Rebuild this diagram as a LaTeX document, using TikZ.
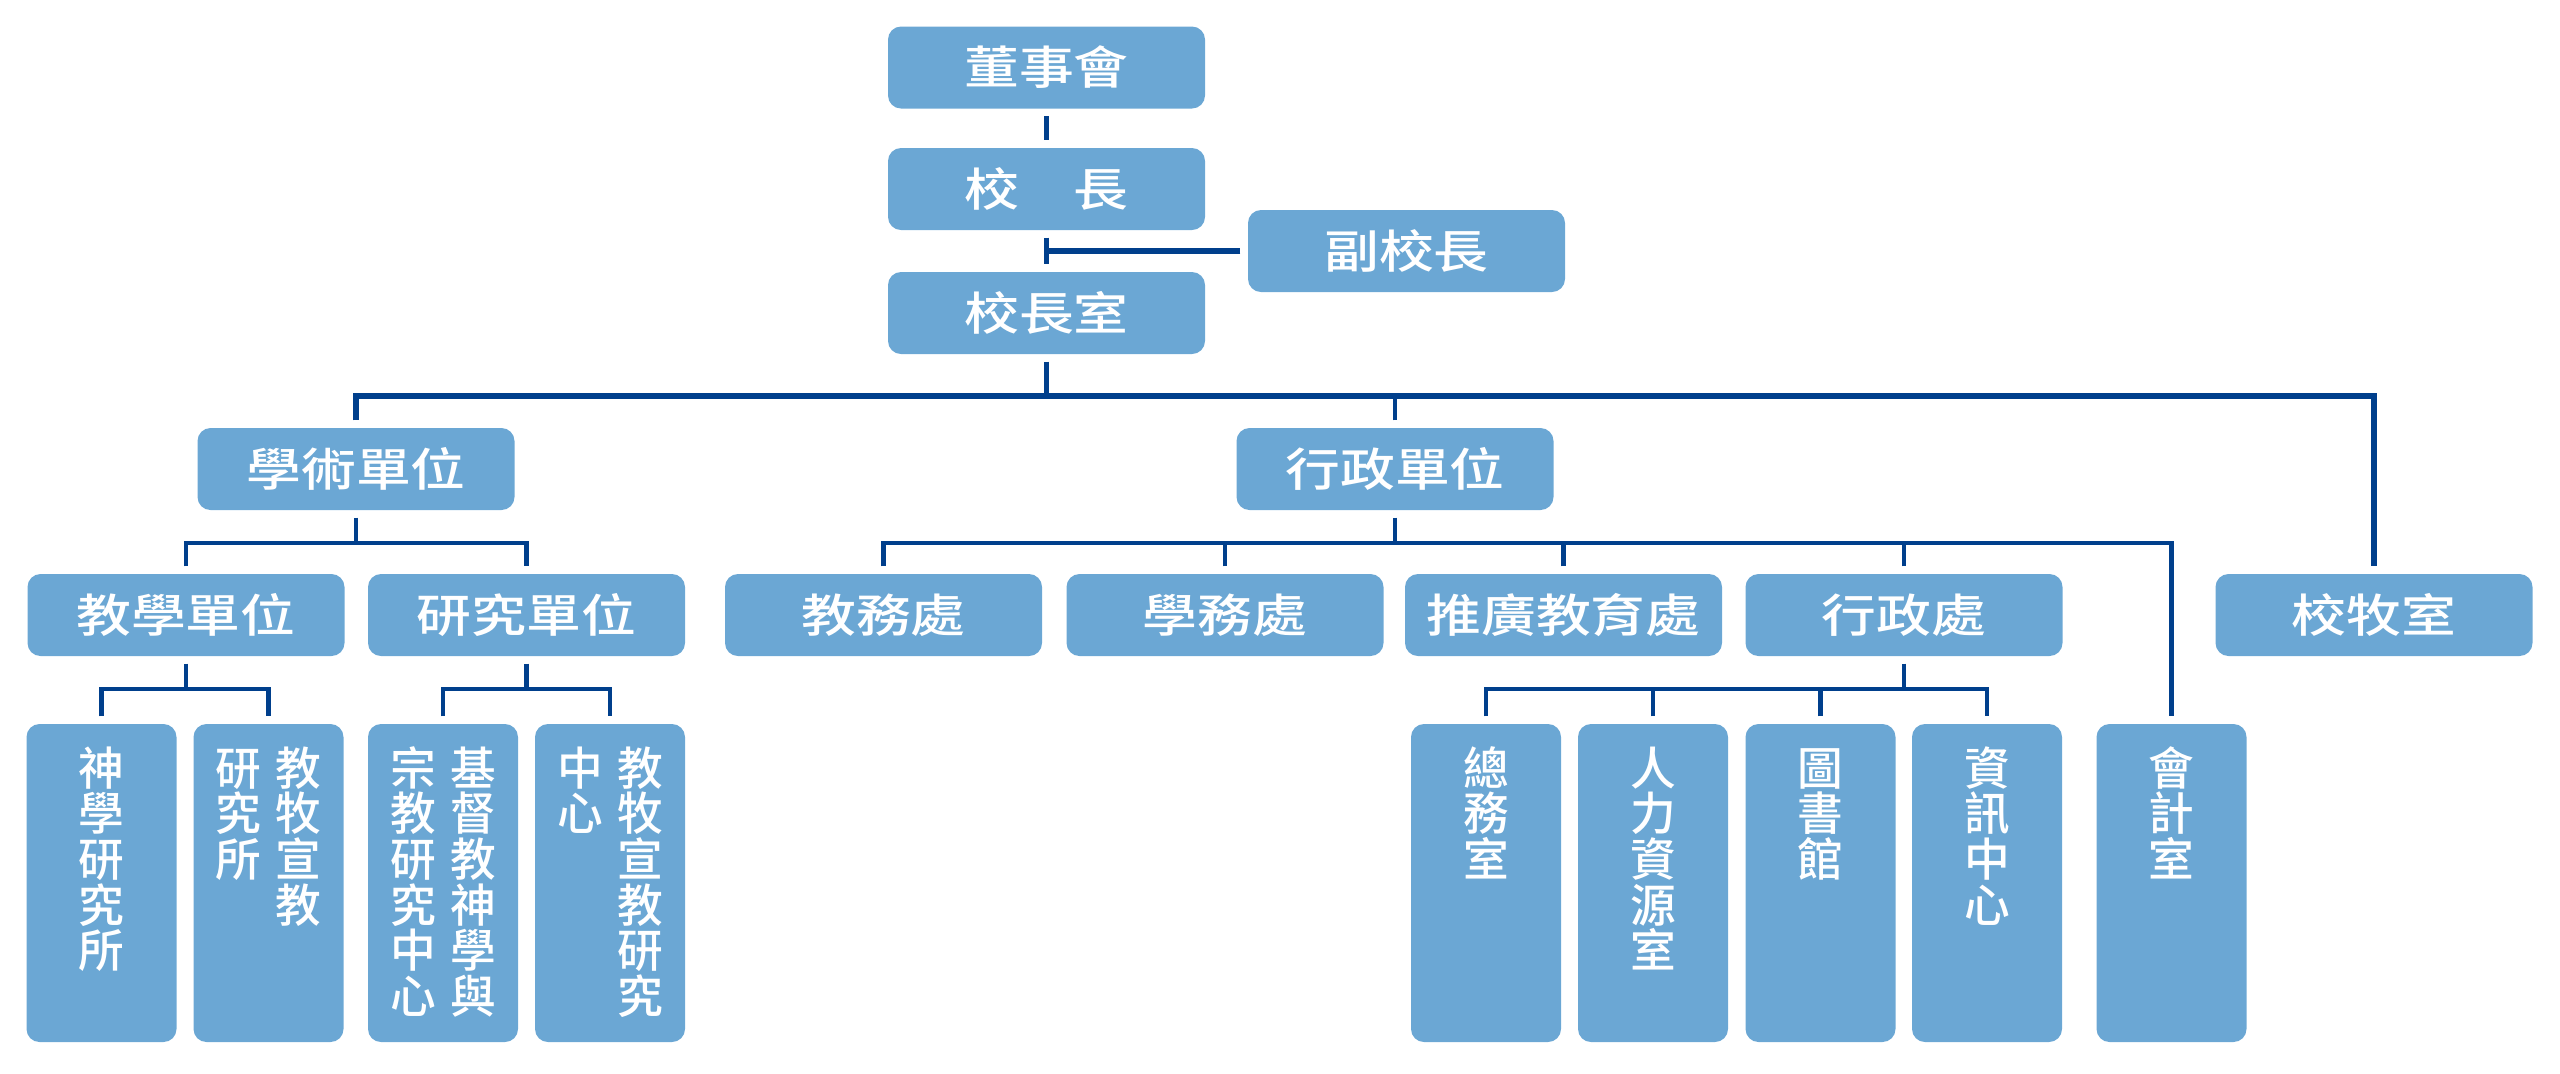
\documentclass[tikz,border=0pt]{standalone}
\usepackage{fontspec}
\usepackage{xcolor}
\usepackage{tikz}
\usetikzlibrary{positioning,calc}
\newfontfamily\cjk[FakeStretch=1.2,BoldFont={Noto Sans CJK TC Medium}]{Noto Sans CJK TC}
\newfontfamily\cjkv[BoldFont={Noto Sans CJK TC Medium}]{Noto Sans CJK TC}
\definecolor{boxblue}{RGB}{107,167,212}
\definecolor{lineblue}{RGB}{0,63,140}
\newcommand{\vcol}[1]{\parbox[t]{1em}{\centering #1}}

\begin{document}
\begin{tikzpicture}[
    unit/.style={fill=boxblue, rounded corners=0.13cm, inner sep=0pt, text=white,
      minimum width=3.17cm, minimum height=0.82cm,
      font=\cjk\bfseries\fontsize{13pt}{13pt}\selectfont},
    vunit/.style={fill=boxblue, rounded corners=0.13cm, inner sep=0pt, text=white,
      minimum width=1.5cm, text height=0.61cm, text depth=2.57cm,
      font=\cjkv\bfseries\fontsize{13pt}{13pt}\selectfont},
    link/.style={draw=lineblue, line width=1.25pt, shorten <=0.07cm, shorten >=0.07cm},
    stem/.style={draw=lineblue, line width=1.25pt, shorten <=0.07cm},
    trunk/.style={link, line width=1.6pt}]
    \useasboundingbox (0,0) rectangle (25.6,-10.73);

    \node[unit] (board) at (10.465,-0.675) {董事會};
    \node[unit] (pres) at (10.465,-1.89) {校　長};
    \node[unit] (vp) at (14.065,-2.51) {副校長};
    \node[unit] (office) at (10.465,-3.13) {校長室};

    \node[unit] (acad) at (3.56,-4.69) {學術單位};
    \node[unit] (admin) at (13.95,-4.69) {行政單位};

    \node[unit] (teach) at (1.86,-6.15) {教學單位};
    \node[unit] (res) at (5.265,-6.15) {研究單位};
    \node[unit] (acaff) at (8.835,-6.15) {教務處};
    \node[unit] (stu) at (12.25,-6.15) {學務處};
    \node[unit] (ext) at (15.635,-6.15) {推廣教育處};
    \node[unit] (gen) at (19.04,-6.15) {行政處};
    \node[unit] (chap) at (23.74,-6.15) {校牧室};

    \node[vunit] (theo) at (1.015,-8.83) {\vcol{神\\學\\研\\究\\所}};
    \node[vunit] (pms) at (2.685,-8.83) {\vcol{研\\究\\所}\hspace{0.14cm}\vcol{教\\牧\\宣\\教}};
    \node[vunit] (ctr) at (4.43,-8.83) {\vcol{宗\\教\\研\\究\\中\\心}\hspace{0.14cm}\vcol{基\\督\\教\\神\\學\\與}};
    \node[vunit] (pmc) at (6.10,-8.83) {\vcol{中\\心}\hspace{0.14cm}\vcol{教\\牧\\宣\\教\\研\\究}};
    \node[vunit] (gaff) at (14.86,-8.83) {\vcol{總\\務\\室}};
    \node[vunit] (hr) at (16.53,-8.83) {\vcol{人\\力\\資\\源\\室}};
    \node[vunit] (lib) at (18.205,-8.83) {\vcol{圖\\書\\館}};
    \node[vunit] (itc) at (19.87,-8.83) {\vcol{資\\訊\\中\\心}};
    \node[vunit] (acct) at (21.715,-8.83) {\vcol{會\\計\\室}};

    \coordinate (mainbar) at (0,-3.96);
    \coordinate (midbar) at (0,-5.43);
    \coordinate (lowbar) at (0,-6.89);

    \draw[link] (board) -- (pres);
    \draw[link] (pres) -- (office);
    \draw[stem, line width=1.5pt] (vp.west) -- (vp.west -| pres.south);

    \draw[trunk] (acad.north) |- (chap.north |- mainbar) -- (chap.north);
    \draw[stem] (office.south) -- (office.south |- mainbar);
    \draw[stem] (admin.north) -- (admin.north |- mainbar);

    \draw[link] (teach.north) |- (res.north |- midbar) -- (res.north);
    \draw[stem] (acad.south) -- (acad.south |- midbar);

    \draw[link] (acaff.north) |- (acct.north |- midbar) -- (acct.north);
    \draw[stem] (admin.south) -- (admin.south |- midbar);
    \draw[stem] (stu.north) -- (stu.north |- midbar);
    \draw[stem] (ext.north) -- (ext.north |- midbar);
    \draw[stem] (gen.north) -- (gen.north |- midbar);

    \draw[link] (theo.north) |- (pms.north |- lowbar) -- (pms.north);
    \draw[stem] (teach.south) -- (teach.south |- lowbar);
    \draw[link] (ctr.north) |- (pmc.north |- lowbar) -- (pmc.north);
    \draw[stem] (res.south) -- (res.south |- lowbar);

    \draw[link] (gaff.north) |- (itc.north |- lowbar) -- (itc.north);
    \draw[stem] (gen.south) -- (gen.south |- lowbar);
    \draw[stem] (hr.north) -- (hr.north |- lowbar);
    \draw[stem] (lib.north) -- (lib.north |- lowbar);
\end{tikzpicture}
\end{document}
